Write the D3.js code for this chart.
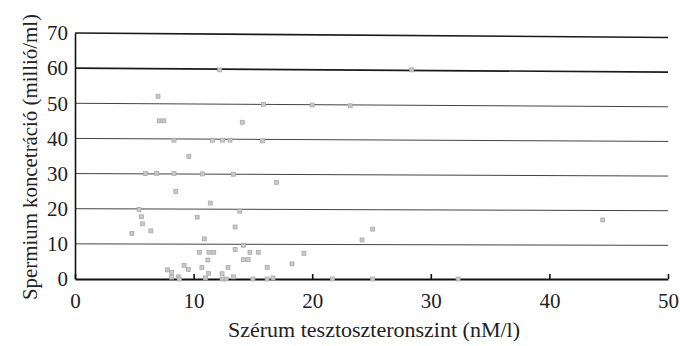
<!DOCTYPE html>
<html>
<head>
<meta charset="utf-8">
<script src="https://cdn.jsdelivr.net/npm/d3@7"></script>
<style>
  body { margin: 0; background: #fff; }
  svg text { font-family: "Liberation Serif", "Times New Roman", serif; fill: #222; }
</style>
</head>
<body>
<div class="scatter"></div>
<script>
// serum testosterone (nM/l) vs sperm concentration (million/ml)
const testo = [
  12.2, 7.0, 7.1, 7.5, 14.1, 15.9, 20.0, 23.2, 28.4,
  8.35, 11.6, 12.45, 13.07, 15.8, 9.6,
  5.93, 6.89, 8.35, 10.73, 13.35, 17.0, 8.5, 11.4,
  5.4, 13.9, 5.6, 10.3, 5.7, 4.8, 6.4, 13.5, 10.9, 14.2, 13.5,
  10.5, 11.3, 11.7, 14.75, 15.45, 19.3, 11.2, 14.2, 14.6,
  9.2, 9.55, 10.7, 12.9, 16.2, 18.3, 7.8, 8.15, 8.15, 8.7, 8.8,
  11.0, 11.25, 12.4, 12.4, 12.75, 13.35, 15.0, 16.2, 16.7, 21.7,
  24.2, 25.1, 25.1, 32.3, 44.5
];
const konc = [
  59.5, 52, 45, 45, 44.6, 49.7, 49.5, 49.3, 59.5,
  39.5, 39.5, 39.5, 39.5, 39.3, 34.9,
  30, 30, 30, 29.9, 29.8, 27.5, 24.9, 21.6,
  19.8, 19.3, 17.7, 17.6, 15.7, 13, 13.7, 14.8, 11.4, 9.6, 8.4,
  7.6, 7.6, 7.6, 7.6, 7.6, 7.3, 5.4, 5.5, 5.5,
  3.9, 2.7, 3.3, 3.3, 3.3, 4.3, 2.6, 1.9, 0.5, 0.6, 0,
  0.3, 1.6, 1.5, 0, 0, 0.6, 0, 0, 0.3, 0,
  11.1, 14.2, 0, 0, 16.8
];
const xTicks = [0, 10, 20, 30, 40, 50];
const yTicks = [0, 10, 20, 30, 40, 50, 60, 70];

const serif = '"Liberation Serif", "Times New Roman", serif';
const data = testo.map((t, i) => ({ t: t, k: konc[i] }));

const width = 680, height = 346;
const margin = { top: 33, right: 12, bottom: 67, left: 75 };
const w = width - margin.left - margin.right,
  h = height - margin.top - margin.bottom;

const svg = d3.select('.scatter').append('svg')
  .attr('width', width).attr('height', height)
  .attr('font-family', serif);

const x = d3.scaleLinear().domain([0, 50]).range([0, w]);
const y = d3.scaleLinear().domain([0, 70]).range([h, 0]);

const g = svg.append('g')
  .attr('transform', 'translate(' + margin.left + ',' + margin.top + ')');

// horizontal grid lines (scan is a little tilted, so they drop to the right)
g.selectAll('.grid')
  .data(yTicks.filter(d => d > 0))
  .enter().append('line')
  .attr('class', 'grid')
  .attr('x1', 0).attr('x2', w)
  .attr('y1', d => y(d))
  .attr('y2', d => y(d) + 1 + d / 70 * 3.5)
  .attr('stroke', d => d >= 60 ? '#1a1a1a' : '#444')
  .attr('stroke-width', d => d >= 60 ? 1.6 : 1);

// y axis
const yAxis = g.append('g')
  .call(d3.axisLeft(y).tickValues(yTicks).tickSize(0).tickPadding(7));
yAxis.attr('font-family', serif).attr('font-size', 21);
yAxis.select('.domain').attr('stroke', '#111').attr('stroke-width', 1.6);
yAxis.selectAll('text').attr('fill', '#222');

// x axis with small upward ticks
const xAxis = g.append('g')
  .attr('transform', 'translate(0,' + h + ')')
  .call(d3.axisBottom(x).tickValues(xTicks).tickSizeInner(-5).tickSizeOuter(0).tickPadding(14));
xAxis.attr('font-family', serif).attr('font-size', 21);
xAxis.select('.domain').attr('stroke', '#111').attr('stroke-width', 1.8);
xAxis.selectAll('line').attr('stroke', '#111').attr('stroke-width', 1.6);
xAxis.selectAll('text').attr('fill', '#222');

// points
g.selectAll('.pt')
  .data(data)
  .enter().append('rect')
  .attr('class', 'pt')
  .attr('x', d => x(d.t) - 2)
  .attr('y', d => y(d.k) - 2)
  .attr('width', 4).attr('height', 4)
  .attr('fill', '#c8c8c8')
  .attr('stroke', '#a6a6a6')
  .attr('stroke-width', 0.7);

// axis titles
svg.append('text')
  .attr('x', 374)
  .attr('y', 337)
  .attr('text-anchor', 'middle')
  .attr('font-size', 21)
  .attr('textLength', 292)
  .attr('lengthAdjust', 'spacingAndGlyphs')
  .text('Szérum tesztoszteronszint (nM/l)');

svg.append('text')
  .attr('transform', 'translate(37,157) rotate(-90)')
  .attr('text-anchor', 'middle')
  .attr('font-size', 21)
  .attr('textLength', 286)
  .attr('lengthAdjust', 'spacingAndGlyphs')
  .text('Spermium koncetráció (millió/ml)');
</script>
</body>
</html>
